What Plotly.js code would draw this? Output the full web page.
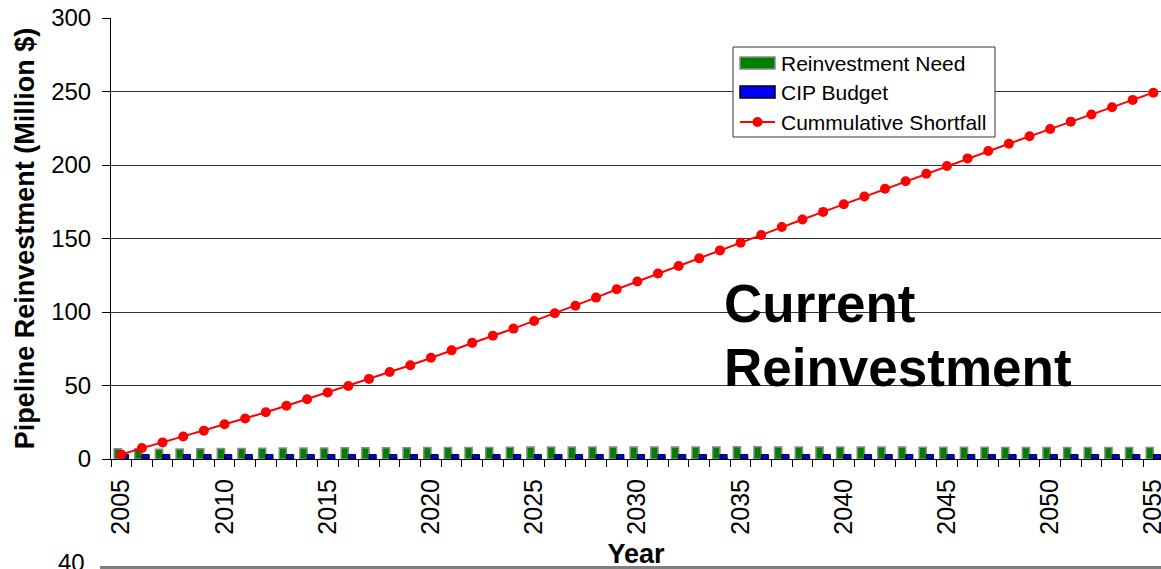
<!DOCTYPE html>
<html>
<head>
<meta charset="utf-8">
<script src="https://cdn.plot.ly/plotly-3.0.1.min.js"></script>
<style>
  html, body { margin: 0; padding: 0; background: #ffffff; }
  #chart { width: 1161px; height: 569px; }
</style>
</head>
<body>
<div id="chart"></div>
<script>
// Years of the planning horizon
const years = [
  2005, 2006, 2007, 2008, 2009, 2010, 2011, 2012, 2013, 2014,
  2015, 2016, 2017, 2018, 2019, 2020, 2021, 2022, 2023, 2024,
  2025, 2026, 2027, 2028, 2029, 2030, 2031, 2032, 2033, 2034,
  2035, 2036, 2037, 2038, 2039, 2040, 2041, 2042, 2043, 2044,
  2045, 2046, 2047, 2048, 2049, 2050, 2051, 2052, 2053, 2054,
  2055
];

// Annual pipeline reinvestment need (million $)
const reinvestmentNeed = [
  7.0, 7.0, 6.6, 6.8, 7.0, 7.2, 7.2, 7.3, 7.4, 7.4,
  7.5, 7.6, 7.6, 7.7, 7.7, 7.8, 7.8, 7.9, 7.9, 8.0,
  8.1, 8.1, 8.1, 8.2, 8.2, 8.2, 8.2, 8.2, 8.2, 8.2,
  8.3, 8.3, 8.2, 8.2, 8.2, 8.2, 8.1, 8.1, 8.1, 8.0,
  8.0, 8.0, 8.0, 7.9, 7.9, 7.9, 7.8, 7.8, 7.8, 7.8,
  7.8
];

// Annual CIP budget for pipelines (million $)
const cipBudget = [
  3.0, 3.0, 3.0, 3.0, 3.0, 3.0, 3.0, 3.0, 3.0, 3.0,
  3.0, 3.0, 3.0, 3.0, 3.0, 3.0, 3.0, 3.0, 3.0, 3.0,
  3.0, 3.0, 3.0, 3.0, 3.0, 3.0, 3.0, 3.0, 3.0, 3.0,
  3.0, 3.0, 3.0, 3.0, 3.0, 3.0, 3.0, 3.0, 3.0, 3.0,
  3.0, 3.0, 3.0, 3.0, 3.0, 3.0, 3.0, 3.0, 3.0, 3.0,
  3.0
];

// Cumulative shortfall (million $)
const cumulativeShortfall = [
  3.0, 7.5, 11.3, 15.3, 19.3, 23.6, 27.5, 31.8, 36.2, 40.7,
  45.3, 49.7, 54.5, 59.2, 63.8, 68.9, 73.9, 79.0, 83.8, 88.7,
  93.9, 99.1, 104.3, 109.8, 115.5, 120.8, 126.2, 131.3, 136.5, 141.9,
  147.1, 152.4, 157.8, 162.9, 168.1, 173.3, 178.6, 183.8, 189.0, 194.0,
  199.3, 204.5, 209.5, 214.5, 219.5, 224.5, 229.5, 234.4, 239.3, 244.3,
  249.2
];

const seriesNames = ['Reinvestment Need', 'CIP Budget', 'Cummulative Shortfall'];
const xTickYears = [2005, 2010, 2015, 2020, 2025, 2030, 2035, 2040, 2045, 2050, 2055];
const yTicks = [0, 50, 100, 150, 200, 250, 300];

const FONT = 'Liberation Sans, Arial, Helvetica, sans-serif';
const W = 1161, H = 569;
const M = { l: 111, r: 0, t: 18, b: 110 };
const COLORS = {
  need: '#008000', needEdge: '#8c8c8c',
  budget: '#0000ff', budgetEdge: '#000000',
  shortfall: '#ff0000'
};

// pixel -> paper helpers for the boxed legend
const px = x => (x - M.l) / (W - M.l - M.r);
const py = y => (H - M.b - y) / (H - M.t - M.b);

const traces = [
  {
    type: 'bar',
    name: seriesNames[0],
    x: years,
    y: reinvestmentNeed,
    marker: { color: COLORS.need, line: { color: COLORS.needEdge, width: 1.5 } },
    hoverinfo: 'x+y+name'
  },
  {
    type: 'bar',
    name: seriesNames[1],
    x: years,
    y: cipBudget,
    marker: { color: COLORS.budget, line: { color: COLORS.budgetEdge, width: 1 } },
    hoverinfo: 'x+y+name'
  },
  {
    type: 'scatter',
    mode: 'lines+markers',
    name: seriesNames[2],
    x: years,
    y: cumulativeShortfall,
    line: { color: COLORS.shortfall, width: 2 },
    marker: { color: COLORS.shortfall, size: 10 },
    hoverinfo: 'x+y+name'
  }
];

// Boxed legend with wide swatches
const legendRows = [63, 92, 122];
const legendShapes = [
  { type: 'rect', xref: 'paper', yref: 'paper', layer: 'above',
    x0: px(733), x1: px(995), y0: py(137), y1: py(47),
    fillcolor: '#ffffff', line: { color: '#333333', width: 1 } },
  { type: 'rect', xref: 'paper', yref: 'paper', layer: 'above',
    x0: px(740), x1: px(775), y0: py(legendRows[0] + 6), y1: py(legendRows[0] - 6),
    fillcolor: COLORS.need, line: { color: COLORS.needEdge, width: 1.5 } },
  { type: 'rect', xref: 'paper', yref: 'paper', layer: 'above',
    x0: px(740), x1: px(775), y0: py(legendRows[1] + 6), y1: py(legendRows[1] - 6),
    fillcolor: COLORS.budget, line: { color: COLORS.budgetEdge, width: 1.5 } },
  { type: 'line', xref: 'paper', yref: 'paper', layer: 'above',
    x0: px(740), x1: px(775), y0: py(legendRows[2]), y1: py(legendRows[2]),
    line: { color: COLORS.shortfall, width: 2 } },
  { type: 'circle', xref: 'paper', yref: 'paper', layer: 'above',
    x0: px(752.5), x1: px(762.5), y0: py(legendRows[2] + 5), y1: py(legendRows[2] - 5),
    fillcolor: COLORS.shortfall, line: { color: COLORS.shortfall, width: 0 } }
];
const legendLabels = seriesNames.map((name, i) => ({
  xref: 'paper', yref: 'paper', x: px(779), y: py(legendRows[i]),
  xanchor: 'left', yanchor: 'middle', showarrow: false,
  text: name, font: { family: FONT, size: 21, color: '#000000' }
}));

const layout = {
  width: W,
  height: H,
  margin: { l: M.l, r: M.r, t: M.t, b: M.b, pad: 0 },
  paper_bgcolor: '#ffffff',
  plot_bgcolor: '#ffffff',
  font: { family: FONT, color: '#000000', size: 24 },
  barmode: 'group',
  bargap: 0.3,
  bargroupgap: 0,
  showlegend: false,
  xaxis: {
    range: [2004.5, 2055.37],
    tickmode: 'array',
    tickvals: xTickYears,
    ticktext: xTickYears.map(String),
    tickangle: -90,
    ticks: 'outside',
    ticklen: 7,
    tickcolor: 'rgba(0,0,0,0)',
    ticklabelstandoff: 2,
    ticklabeloverflow: 'allow',
    minor: { tick0: 2004.5, dtick: 1, ticks: 'outside', ticklen: 7, tickcolor: '#000000', tickwidth: 1, showgrid: false },
    showline: true,
    linecolor: '#000000',
    linewidth: 1,
    showgrid: false,
    zeroline: false,
    tickfont: { family: FONT, size: 25 },
    title: { text: '<b>Year</b>', font: { family: FONT, size: 27 }, standoff: 13 },
    automargin: false,
    fixedrange: true
  },
  yaxis: {
    range: [0, 300],
    tickmode: 'array',
    tickvals: yTicks,
    ticks: 'outside',
    ticklen: 8,
    tickcolor: '#000000',
    ticklabelstandoff: 6,
    showline: true,
    linecolor: '#000000',
    linewidth: 1,
    showgrid: true,
    gridcolor: '#333333',
    gridwidth: 1,
    zeroline: false,
    tickfont: { family: FONT, size: 24 },
    title: { text: '<b>Pipeline Reinvestment (Million $)</b>', font: { family: FONT, size: 27 }, standoff: 8 },
    automargin: false,
    fixedrange: true
  },
  annotations: [
    {
      xref: 'x', yref: 'y', x: 2034.1, y: 106,
      xanchor: 'left', yanchor: 'middle',
      text: '<b>Current</b>', showarrow: false,
      font: { family: FONT, size: 53, color: '#000000' }
    },
    {
      xref: 'x', yref: 'y', x: 2034.1, y: 62.5,
      xanchor: 'left', yanchor: 'middle',
      text: '<b>Reinvestment</b>', showarrow: false,
      font: { family: FONT, size: 53, color: '#000000' }
    },
    {
      // top of the next chart's axis label peeking in at the bottom
      xref: 'paper', yref: 'paper', x: px(87), y: py(562),
      xanchor: 'right', yanchor: 'middle',
      text: '40', showarrow: false,
      font: { family: FONT, size: 24, color: '#000000' }
    }
  ].concat(legendLabels),
  shapes: [
    {
      type: 'line', xref: 'paper', yref: 'paper',
      x0: px(100), x1: 1.0, y0: py(567.5), y1: py(567.5),
      line: { color: '#808080', width: 3 }
    }
  ].concat(legendShapes)
};

Plotly.newPlot('chart', traces, layout, { displayModeBar: false, staticPlot: true });
</script>
</body>
</html>
